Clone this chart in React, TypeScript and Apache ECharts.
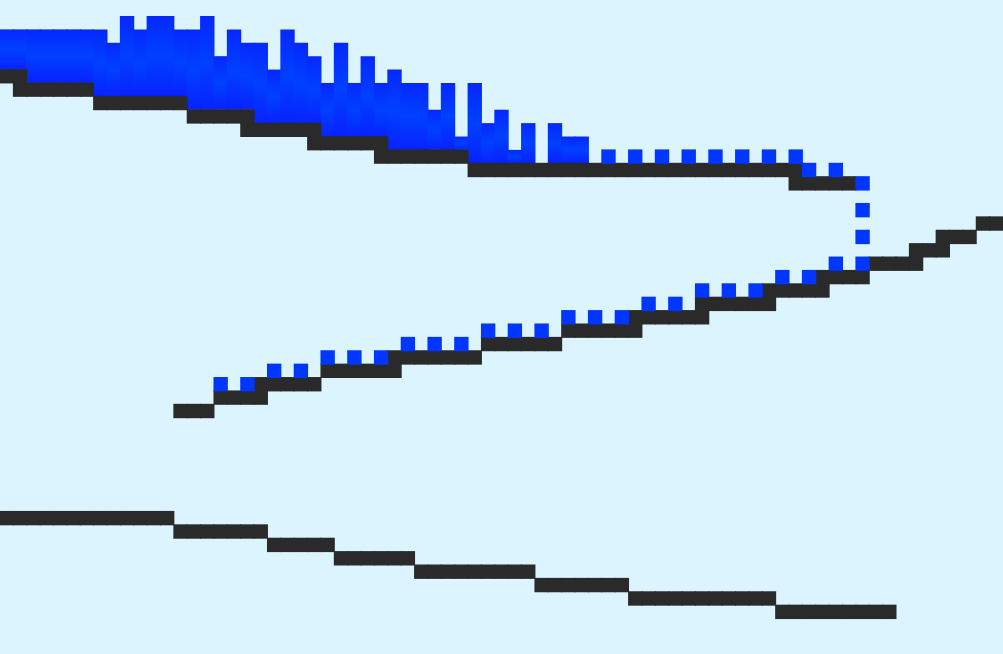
import React, { useEffect, useRef } from 'react';
import * as echarts from 'echarts';

// The picture is a pixel-art view: 75 columns, each entry is the row (0 = top)
// of the pixel(s) the line covers in that column. null = nothing in that column.
type Cell = number | number[] | null;

const upperLine: Cell[] = [
  5, [5, 6], 6, 6, 6, 6, 6, 7, 7, 7, 7, 7, 7, 7, 8, 8, 8, 8, [8, 9], 9, 9, 9, 9, [9, 10],
  10, 10, 10, 10, [10, 11], 11, 11, 11, 11, 11, 11, 12, 12, 12, 12, 12, 12, 12, 12, 12,
  12, 12, 12, 12, 12, 12, 12, 12, 12, 12, 12, 12, 12, 12, 12, [12, 13], 13, 13, 13, 13,
];

const lowerLine: Cell[] = [
  null, null, null, null, null, null, null, null, null, null, null, null, null,
  30, 30, 30, 29, 29, 29, [28, 29], 28, 28, 28, 28, 27, 27, 27, 27, 27, [26, 27],
  26, 26, 26, 26, 26, 26, 25, 25, 25, 25, 25, 25, 24, 24, 24, 24, 24, [23, 24],
  23, 23, 23, 23, [22, 23], 22, 22, 22, 22, [21, 22], 21, 21, 21, [20, 21], 20, 20, 20,
  19, 19, 19, [18, 19], 18, [17, 18], 17, 17, 16, 16,
];

const bottomLine: Cell[] = [
  38, 38, 38, 38, 38, 38, 38, 38, 38, 38, 38, 38, 38, 39, 39, 39, 39, 39, 39, 39,
  40, 40, 40, 40, 40, 41, 41, 41, 41, 41, 41, 42, 42, 42, 42, 42, 42, 42, 42, 42,
  43, 43, 43, 43, 43, 43, 43, 44, 44, 44, 44, 44, 44, 44, 44, 44, 44, 44,
  45, 45, 45, 45, 45, 45, 45, 45, 45,
];

// dotted blue outline
const dottedLower: Cell[] = [
  null, null, null, null, null, null, null, null, null, null, null, null, null, null, null, null,
  28, null, 28, null, 27, null, 27, null, 26, null, 26, null, 26, null, 25, null, 25, null,
  25, null, 24, null, 24, null, 24, null, 23, null, 23, null, 23, null, 22, null, 22, null,
  21, null, 21, null, 21, null, 20, null, 20, null, 19, null, [19, 17, 15, 13],
];

const dottedUpper: Cell[] = [
  null, null, null, null, null, null, null, null, null, null, null, null, null, null, null,
  null, null, null, null, null, null, null, null, null, null, null, null, null, null, null,
  null, null, null, null, null, null, null, null, null, null, null, null, null, null, null,
  11, null, 11, null, 11, null, 11, null, 11, null, 11, null, 11, null, 11, 12, null, 12,
];

// top row of the filled blue band per column (it reaches down to the upper line)
const bandTop: (number | null)[] = [
  2, 2, 2, 2, 2, 2, 2, 2, 3, 1, 2, 1, 1, 2, 2, 1, 4, 2, 3, 3, 5, 2, 3, 4, 6, 3, 6, 4,
  6, 5, 6, 6, 8, 6, 10, 6, 9, 8, 11, 9, null, 9, 10, 10,
];

const PX_W = 1003 / 75;
const PX_H = 13.39;

const toPoints = (rows: Cell[]) =>
  rows.flatMap((r, c) => (r == null ? [] : (Array.isArray(r) ? r : [r]).map((k) => [c, k])));

const firstRow = (r: Cell) => (Array.isArray(r) ? Math.min(...r) : (r as number));

const App: React.FC = () => {
  const chartRef = useRef<HTMLDivElement>(null);

  useEffect(() => {
    document.body.style.margin = '0';
    const chart = echarts.init(chartRef.current!, undefined, { renderer: 'svg' });

    const bandData = bandTop
      .map((t, c) => (t == null ? null : [c, t, firstRow(upperLine[c]) - 1]))
      .filter((d) => d !== null);

    const pixelSeries = (name: string, rows: Cell[], color: string) => ({
      name,
      type: 'scatter',
      symbol: 'rect',
      symbolSize: [PX_W + 1, PX_H + 1],
      silent: true,
      itemStyle: { color, opacity: 1 },
      data: toPoints(rows),
    });

    const options = {
      animation: false,
      backgroundColor: '#dcf4fe',
      grid: { left: 0, right: 0, top: 0, bottom: 0 },
      xAxis: { type: 'value', min: -0.5, max: 74.5, show: false },
      yAxis: {
        type: 'value',
        inverse: true,
        min: -0.695,
        max: 654 / PX_H - 0.695,
        show: false,
      },
      series: [
        {
          name: 'band',
          type: 'custom',
          silent: true,
          renderItem: (_p: any, api: any) => {
            const c = api.value(0);
            const p0 = api.coord([c - 0.5, api.value(1) - 0.5]);
            const p1 = api.coord([c + 0.5, api.value(2) + 0.5]);
            return {
              type: 'rect',
              shape: { x: p0[0] - 0.5, y: p0[1], width: p1[0] - p0[0] + 1, height: p1[1] - p0[1] },
              style: {
                fill: new echarts.graphic.LinearGradient(0, 0, 0, 1, [
                  { offset: 0, color: '#0628ff' },
                  { offset: 0.5, color: '#0040ff' },
                  { offset: 1, color: '#0822ff' },
                ]),
              },
            };
          },
          data: bandData,
        },
        pixelSeries('upper', upperLine, '#2a2a2a'),
        pixelSeries('lower', lowerLine, '#2a2a2a'),
        pixelSeries('bottom', bottomLine, '#2a2a2a'),
        pixelSeries('dotsLower', dottedLower, '#0036ff'),
        pixelSeries('dotsUpper', dottedUpper, '#0036ff'),
      ],
    };

    chart.setOption(options as any);

    return () => {
      chart.dispose();
    };
  }, []);

  return <div ref={chartRef} style={{ width: '1003px', height: '654px' }} />;
};

export default App;
